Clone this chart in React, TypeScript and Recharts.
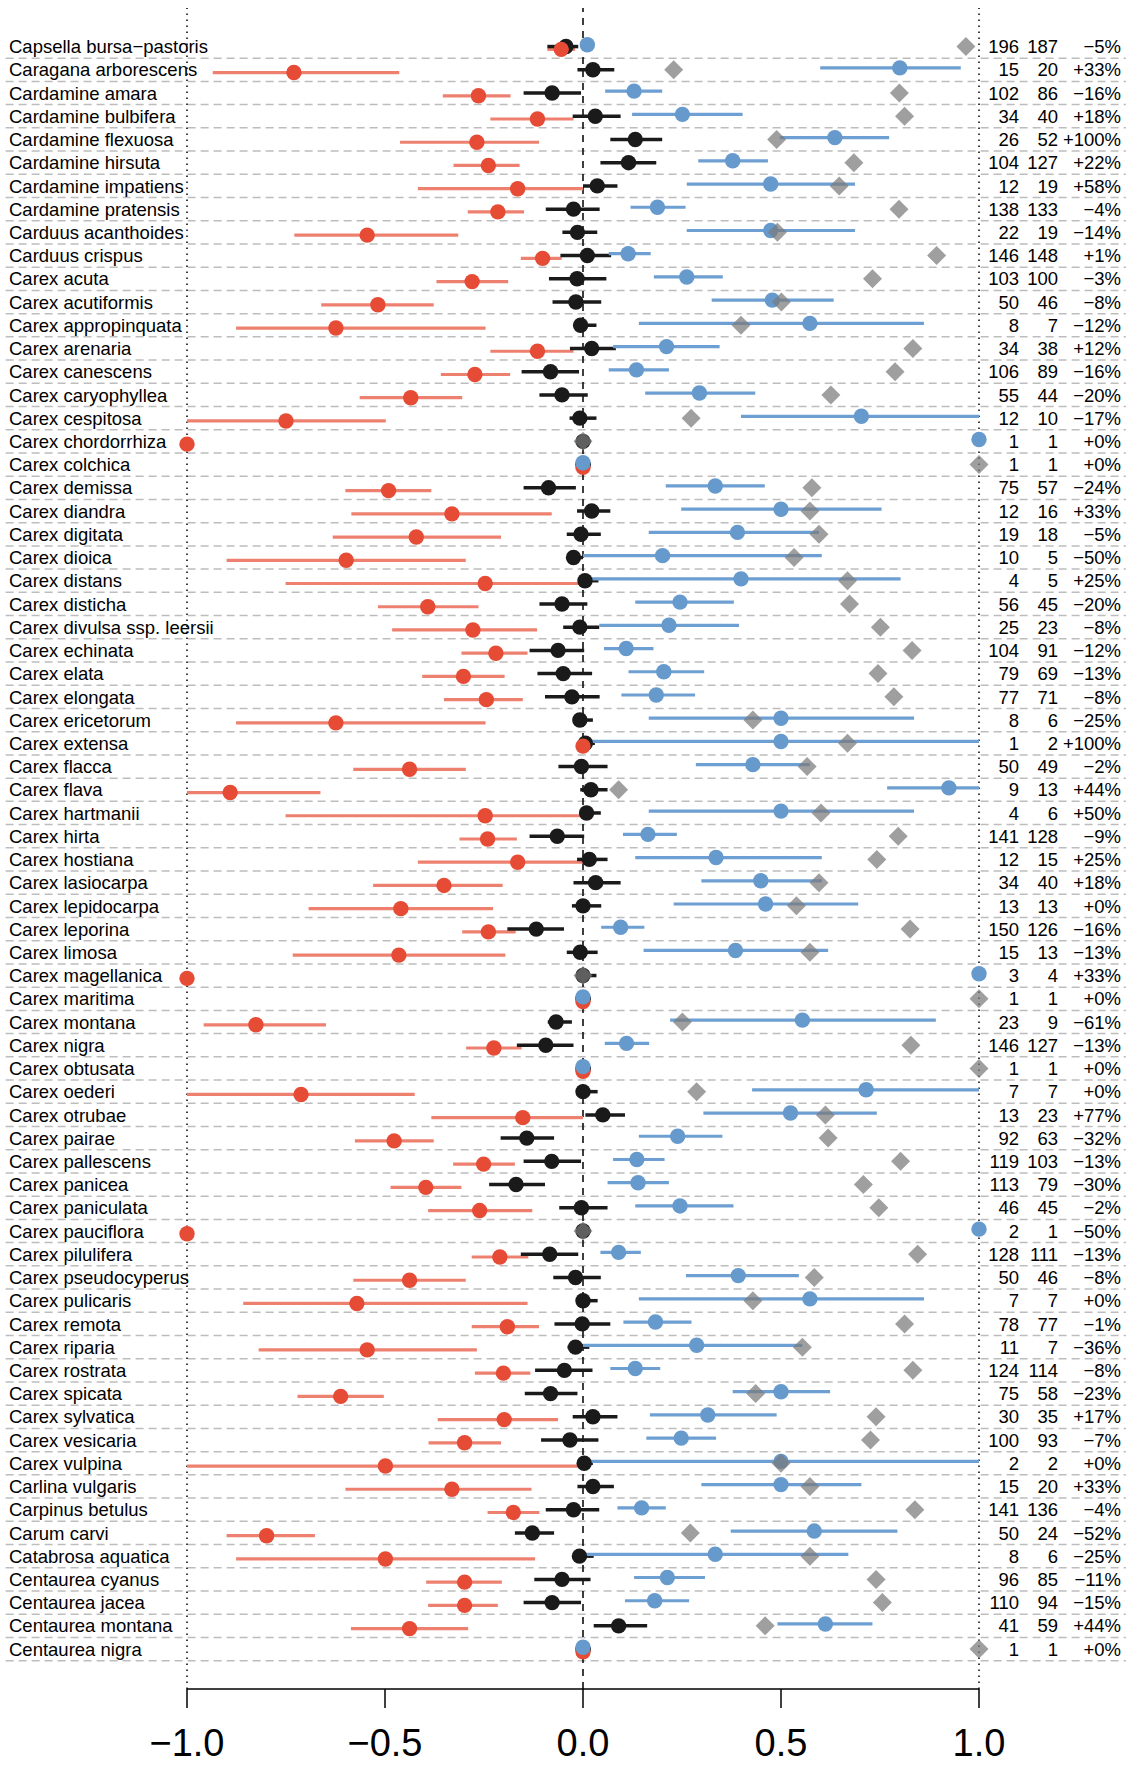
import React from 'react';
import { ScatterChart, Scatter, XAxis, YAxis, ErrorBar, ReferenceLine } from 'recharts';

const species = [
  'Capsella bursa−pastoris', 'Caragana arborescens', 'Cardamine amara', 'Cardamine bulbifera',
  'Cardamine flexuosa', 'Cardamine hirsuta', 'Cardamine impatiens', 'Cardamine pratensis',
  'Carduus acanthoides', 'Carduus crispus', 'Carex acuta', 'Carex acutiformis',
  'Carex appropinquata', 'Carex arenaria', 'Carex canescens', 'Carex caryophyllea',
  'Carex cespitosa', 'Carex chordorrhiza', 'Carex colchica', 'Carex demissa',
  'Carex diandra', 'Carex digitata', 'Carex dioica', 'Carex distans',
  'Carex disticha', 'Carex divulsa ssp. leersii', 'Carex echinata', 'Carex elata',
  'Carex elongata', 'Carex ericetorum', 'Carex extensa', 'Carex flacca',
  'Carex flava', 'Carex hartmanii', 'Carex hirta', 'Carex hostiana',
  'Carex lasiocarpa', 'Carex lepidocarpa', 'Carex leporina', 'Carex limosa',
  'Carex magellanica', 'Carex maritima', 'Carex montana', 'Carex nigra',
  'Carex obtusata', 'Carex oederi', 'Carex otrubae', 'Carex pairae',
  'Carex pallescens', 'Carex panicea', 'Carex paniculata', 'Carex pauciflora',
  'Carex pilulifera', 'Carex pseudocyperus', 'Carex pulicaris', 'Carex remota',
  'Carex riparia', 'Carex rostrata', 'Carex spicata', 'Carex sylvatica',
  'Carex vesicaria', 'Carex vulpina', 'Carlina vulgaris', 'Carpinus betulus',
  'Carum carvi', 'Catabrosa aquatica', 'Centaurea cyanus', 'Centaurea jacea',
  'Centaurea montana', 'Centaurea nigra',
];

// red estimate with interval
const redMean = [
  -0.055, -0.73, -0.264, -0.115, -0.268, -0.239, -0.165, -0.215, -0.545, -0.102,
  -0.28, -0.518, -0.624, -0.115, -0.273, -0.435, -0.75, -1, 0, -0.491,
  -0.331, -0.421, -0.598, -0.247, -0.392, -0.278, -0.22, -0.302, -0.244, -0.624,
  0, -0.438, -0.891, -0.247, -0.241, -0.165, -0.351, -0.46, -0.239, -0.465,
  -1, 0, -0.826, -0.225, 0, -0.712, -0.152, -0.477, -0.251, -0.397,
  -0.261, -1, -0.21, -0.438, -0.571, -0.191, -0.545, -0.201, -0.612, -0.199,
  -0.299, -0.499, -0.331, -0.176, -0.799, -0.499, -0.299, -0.299, -0.438, 0,
];
const redLo = [
  -0.09, -0.935, -0.354, -0.234, -0.462, -0.327, -0.417, -0.291, -0.729, -0.157,
  -0.37, -0.661, -0.876, -0.234, -0.359, -0.564, -1, -1, 0, -0.6,
  -0.585, -0.632, -0.9, -0.751, -0.518, -0.482, -0.307, -0.406, -0.351, -0.876,
  0, -0.58, -1, -0.751, -0.312, -0.417, -0.53, -0.693, -0.305, -0.733,
  -1, 0, -0.958, -0.295, 0, -1, -0.383, -0.576, -0.328, -0.486,
  -0.391, -1, -0.281, -0.58, -0.858, -0.281, -0.819, -0.273, -0.721, -0.367,
  -0.39, -1, -0.6, -0.241, -0.9, -0.876, -0.396, -0.391, -0.586, 0,
];
const redHi = [
  -0.02, -0.464, -0.183, -0.024, -0.111, -0.16, 0, -0.149, -0.315, -0.054,
  -0.189, -0.377, -0.246, -0.024, -0.184, -0.305, -0.498, -1, 0, -0.383,
  -0.079, -0.207, -0.296, 0, -0.264, -0.116, -0.14, -0.198, -0.152, -0.246,
  0, -0.296, -0.663, 0, -0.167, 0, -0.203, -0.227, -0.17, -0.196,
  -1, 0, -0.649, -0.155, 0, -0.425, 0, -0.377, -0.172, -0.307,
  -0.128, -1, -0.138, -0.296, -0.14, -0.111, -0.268, -0.133, -0.503, -0.063,
  -0.207, 0, -0.13, -0.11, -0.677, -0.121, -0.205, -0.215, -0.29, 0,
];

// black estimate with interval
const blackMean = [
  -0.043, 0.025, -0.078, 0.031, 0.132, 0.115, 0.036, -0.024, -0.014, 0.011,
  -0.015, -0.018, -0.006, 0.022, -0.082, -0.053, -0.008, 0, 0, -0.087,
  0.022, -0.005, -0.024, 0.005, -0.053, -0.008, -0.063, -0.05, -0.028, -0.008,
  0.006, -0.004, 0.02, 0.009, -0.065, 0.016, 0.032, 0, -0.118, -0.007,
  0, 0, -0.068, -0.094, 0, 0, 0.05, -0.142, -0.079, -0.169,
  -0.004, 0, -0.084, -0.019, 0, -0.002, -0.019, -0.047, -0.082, 0.025,
  -0.033, 0.003, 0.025, -0.024, -0.128, -0.009, -0.053, -0.078, 0.09, 0,
];
const blackLo = [
  -0.09, -0.014, -0.15, -0.026, 0.069, 0.044, 0, -0.094, -0.052, -0.057,
  -0.086, -0.077, -0.024, -0.033, -0.155, -0.11, -0.034, 0, 0, -0.15,
  -0.015, -0.041, -0.04, 0, -0.11, -0.05, -0.135, -0.115, -0.096, -0.02,
  0, -0.062, -0.007, 0, -0.135, -0.015, -0.024, -0.028, -0.191, -0.041,
  0, 0, -0.089, -0.167, 0, -0.016, 0.006, -0.208, -0.15, -0.237,
  -0.06, 0, -0.157, -0.075, -0.018, -0.072, -0.039, -0.121, -0.147, -0.026,
  -0.106, 0, -0.014, -0.094, -0.172, -0.02, -0.123, -0.15, 0.027, 0,
];
const blackHi = [
  -0.012, 0.079, -0.005, 0.095, 0.2, 0.185, 0.087, 0.042, 0.036, 0.071,
  0.059, 0.046, 0.034, 0.083, -0.01, 0.012, 0.034, 0.02, 0.02, -0.018,
  0.069, 0.045, 0, 0.039, 0.011, 0.041, 0.003, 0.023, 0.042, 0.025,
  0.03, 0.062, 0.062, 0.045, 0.003, 0.062, 0.095, 0.046, -0.048, 0.037,
  0.034, 0.02, -0.028, -0.024, 0.02, 0.037, 0.106, -0.073, -0.005, -0.096,
  0.062, 0.02, -0.012, 0.045, 0.037, 0.069, 0.016, 0.024, -0.014, 0.087,
  0.039, 0.025, 0.078, 0.041, -0.073, 0.027, 0.019, -0.005, 0.162, 0.02,
];

// blue estimate with interval
const blueMean = [
  0.011, 0.8, 0.129, 0.251, 0.636, 0.378, 0.474, 0.188, 0.474, 0.114,
  0.262, 0.478, 0.573, 0.211, 0.135, 0.294, 0.703, 1, 0, 0.334,
  0.5, 0.39, 0.201, 0.399, 0.245, 0.217, 0.109, 0.204, 0.185, 0.5,
  0.5, 0.429, 0.924, 0.5, 0.164, 0.336, 0.449, 0.461, 0.095, 0.385,
  1, 0, 0.554, 0.11, 0, 0.715, 0.524, 0.239, 0.136, 0.139,
  0.245, 1, 0.09, 0.392, 0.573, 0.183, 0.287, 0.132, 0.5, 0.315,
  0.248, 0.5, 0.5, 0.148, 0.584, 0.334, 0.213, 0.181, 0.612, 0,
];
const blueLo = [
  0.011, 0.599, 0.056, 0.124, 0.497, 0.291, 0.262, 0.12, 0.262, 0.065,
  0.179, 0.325, 0.141, 0.076, 0.065, 0.157, 0.399, 1, 0, 0.209,
  0.248, 0.166, 0, 0, 0.132, 0.041, 0.053, 0.115, 0.097, 0.166,
  0, 0.285, 0.768, 0.166, 0.101, 0.132, 0.299, 0.229, 0.046, 0.153,
  1, 0, 0.22, 0.055, 0, 0.427, 0.304, 0.141, 0.076, 0.062,
  0.132, 1, 0.044, 0.26, 0.141, 0.102, 0, 0.069, 0.378, 0.169,
  0.16, 0, 0.299, 0.087, 0.373, 0, 0.129, 0.106, 0.491, 0,
];
const blueHi = [
  0.011, 0.954, 0.2, 0.403, 0.773, 0.467, 0.687, 0.259, 0.687, 0.171,
  0.353, 0.633, 0.861, 0.345, 0.217, 0.435, 1, 1, 0, 0.459,
  0.754, 0.596, 0.603, 0.802, 0.381, 0.394, 0.178, 0.306, 0.283, 0.836,
  1, 0.573, 1, 0.836, 0.237, 0.603, 0.603, 0.695, 0.155, 0.619,
  1, 0, 0.891, 0.167, 0, 1, 0.742, 0.352, 0.206, 0.217,
  0.38, 1, 0.146, 0.545, 0.861, 0.274, 0.554, 0.195, 0.624, 0.489,
  0.336, 1, 0.703, 0.209, 0.794, 0.67, 0.308, 0.268, 0.731, 0,
];

// grey diamonds
const diamondVal = [
  0.967, 0.229, 0.799, 0.812, 0.489, 0.684, 0.647, 0.798, 0.491, 0.893,
  0.731, 0.501, 0.399, 0.833, 0.788, 0.626, 0.273, 0, 1, 0.578,
  0.573, 0.596, 0.533, 0.668, 0.673, 0.751, 0.831, 0.745, 0.785, 0.429,
  0.668, 0.566, 0.09, 0.601, 0.796, 0.742, 0.596, 0.539, 0.826, 0.573,
  0, 1, 0.251, 0.828, 1, 0.287, 0.612, 0.619, 0.802, 0.708,
  0.747, 0, 0.845, 0.584, 0.429, 0.812, 0.554, 0.833, 0.436, 0.74,
  0.726, 0.5, 0.573, 0.838, 0.271, 0.573, 0.74, 0.756, 0.46, 1,
];

const countBefore = [
  196, 15, 102, 34, 26, 104, 12, 138, 22, 146,
  103, 50, 8, 34, 106, 55, 12, 1, 1, 75,
  12, 19, 10, 4, 56, 25, 104, 79, 77, 8,
  1, 50, 9, 4, 141, 12, 34, 13, 150, 15,
  3, 1, 23, 146, 1, 7, 13, 92, 119, 113,
  46, 2, 128, 50, 7, 78, 11, 124, 75, 30,
  100, 2, 15, 141, 50, 8, 96, 110, 41, 1,
];
const countAfter = [
  187, 20, 86, 40, 52, 127, 19, 133, 19, 148,
  100, 46, 7, 38, 89, 44, 10, 1, 1, 57,
  16, 18, 5, 5, 45, 23, 91, 69, 71, 6,
  2, 49, 13, 6, 128, 15, 40, 13, 126, 13,
  4, 1, 9, 127, 1, 7, 23, 63, 103, 79,
  45, 1, 111, 46, 7, 77, 7, 114, 58, 35,
  93, 2, 20, 136, 24, 6, 85, 94, 59, 1,
];
const changePct = [
  -5, 33, -16, 18, 100, 22, 58, -4, -14, 1,
  -3, -8, -12, 12, -16, -20, -17, 0, 0, -24,
  33, -5, -50, 25, -20, -8, -12, -13, -8, -25,
  100, -2, 44, 50, -9, 25, 18, 0, -16, -13,
  33, 0, -61, -13, 0, 0, 77, -32, -13, -30,
  -2, -50, -13, -8, 0, -1, -36, -8, -23, 17,
  -7, 0, 33, -4, -52, -25, -11, -15, 44, 0,
];

const xTicks = [-1, -0.5, 0, 0.5, 1];

// layout
const W = 1136;
const H = 1765;
const ROW_MIN = -0.66;
const ROW_MAX = 71.72;
const RED_DY = 0.12;
const BLUE_DY = -0.08;
const GRID_X0 = -1.458;
const GRID_X1 = 1.371;
const DOT_R = 7.7;
const DIA = 9.5;
const LINE_W = 3.2;
const FONT = "'Liberation Sans', Arial, Helvetica, sans-serif";

const RED = '#E64B35';
const RED_LINE = '#EE8070';
const BLUE = '#6699CC';
const BLUE_LINE = '#6E9FD2';
const BLACK = '#1A1A1A';

const rowIds = species.map((_, i) => i + 1);

const lineData = (mean: number[], lo: number[], hi: number[], dy: number) =>
  mean.map((m, i) => ({ x: m, y: i + 1 + dy, err: [m - lo[i], hi[i] - m] }));
const pointData = (vals: number[], dy: number) => vals.map((v, i) => ({ x: v, y: i + 1 + dy }));

const redLines = lineData(redMean, redLo, redHi, RED_DY);
const blackLines = lineData(blackMean, blackLo, blackHi, 0);
const blueLines = lineData(blueMean, blueLo, blueHi, BLUE_DY);
const redPts = pointData(redMean, RED_DY);
const blackPts = pointData(blackMean, 0);
const bluePts = pointData(blueMean, BLUE_DY);
const diamondPts = pointData(diamondVal, 0);

const fmtPct = (v: number) => (v >= 0 ? `+${v}%` : `−${-v}%`);
const fmtX = (v: number) => (v < 0 ? `−${(-v).toFixed(1)}` : v.toFixed(1));

const noShape = () => <g />;
const dot = (fill: string) => (p: any) => <circle cx={p.cx} cy={p.cy} r={DOT_R} fill={fill} />;
const diamond = (p: any) => (
  <polygon
    points={`${p.cx},${p.cy - DIA} ${p.cx + DIA},${p.cy} ${p.cx},${p.cy + DIA} ${p.cx - DIA},${p.cy}`}
    fill="#7A7A7A"
    fillOpacity={0.72}
  />
);

const RowTick = (props: any) => {
  const { y, payload } = props;
  const i = payload.value - 1;
  const common = { y, dy: '0.36em', fontSize: 18.5, fill: '#000' };
  return (
    <g>
      <text x={9} {...common}>{species[i]}</text>
      <text x={1019} textAnchor="end" {...common}>{countBefore[i]}</text>
      <text x={1058} textAnchor="end" {...common}>{countAfter[i]}</text>
      <text x={1121} textAnchor="end" {...common}>{fmtPct(changePct[i])}</text>
    </g>
  );
};

export default function App() {
  return (
    <div style={{ width: W, height: H, fontFamily: FONT, background: '#fff' }}>
      <style>{'body{margin:0}'}</style>
      <ScatterChart width={W} height={H} margin={{ top: 8, right: 157, bottom: 0, left: 0 }}>
        <XAxis
          type="number"
          dataKey="x"
          domain={[-1, 1]}
          ticks={xTicks}
          tickFormatter={fmtX}
          height={76}
          tickSize={19}
          tickMargin={21}
          axisLine={{ stroke: '#000', strokeWidth: 1.5 }}
          tickLine={{ stroke: '#000', strokeWidth: 1.5 }}
          tick={{ fontSize: 38, fill: '#000' }}
        />
        <YAxis
          type="number"
          dataKey="y"
          domain={[ROW_MIN, ROW_MAX]}
          reversed
          ticks={rowIds}
          interval={0}
          width={187}
          axisLine={false}
          tickLine={false}
          tick={<RowTick />}
        />
        {rowIds.map((r) => (
          <ReferenceLine
            key={`g${r}`}
            segment={[{ x: GRID_X0, y: r + 0.5 }, { x: GRID_X1, y: r + 0.5 }]}
            ifOverflow="visible"
            stroke="#BDBDBD"
            strokeWidth={1.5}
            strokeDasharray="8 5"
          />
        ))}
        <ReferenceLine x={-1} stroke="#000" strokeWidth={1.5} strokeDasharray="1.5 4.5" />
        <ReferenceLine x={1} stroke="#000" strokeWidth={1.5} strokeDasharray="1.5 4.5" />
        <ReferenceLine x={0} stroke="#000" strokeWidth={1.5} strokeDasharray="7 6" />

        <Scatter data={redLines} shape={noShape} isAnimationActive={false}>
          <ErrorBar dataKey="err" direction="x" width={0} stroke={RED_LINE} strokeWidth={LINE_W} isAnimationActive={false} />
        </Scatter>
        <Scatter data={blackLines} shape={noShape} isAnimationActive={false}>
          <ErrorBar dataKey="err" direction="x" width={0} stroke={BLACK} strokeWidth={LINE_W + 0.3} isAnimationActive={false} />
        </Scatter>
        <Scatter data={blueLines} shape={noShape} isAnimationActive={false}>
          <ErrorBar dataKey="err" direction="x" width={0} stroke={BLUE_LINE} strokeWidth={LINE_W} isAnimationActive={false} />
        </Scatter>

        <Scatter data={blackPts} shape={dot(BLACK)} isAnimationActive={false} />
        <Scatter data={redPts} shape={dot(RED)} isAnimationActive={false} />
        <Scatter data={bluePts} shape={dot(BLUE)} isAnimationActive={false} />
        <Scatter data={diamondPts} shape={diamond} isAnimationActive={false} />
      </ScatterChart>
    </div>
  );
}
